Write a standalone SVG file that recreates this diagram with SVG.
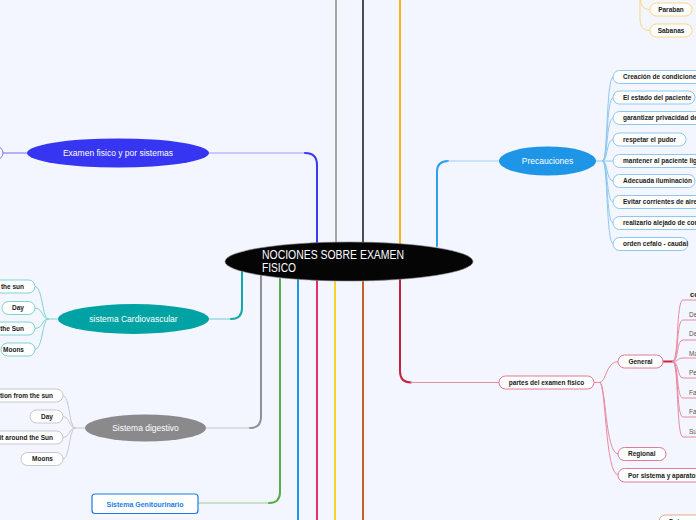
<svg xmlns="http://www.w3.org/2000/svg" width="696" height="520" viewBox="0 0 696 520">
<style>
text{font-family:"Liberation Sans",Arial,sans-serif}
.leaf{fill:#ffffff;stroke-width:1}
.lt{font-size:6.5px;font-weight:bold;fill:#1a1a1a}
.wt{font-size:8.5px;fill:#ffffff;text-anchor:middle}
.c{fill:none}
.ul{font-size:6.5px;fill:#555}
</style>
<rect width="696" height="520" fill="#f3f6fe"/>
<g id="connectors" fill="none" stroke-linecap="round">
  <!-- top lines -->
  <path d="M336,0 V244" stroke="#a3a79f" stroke-width="2"/>
  <path d="M363,0 V243" stroke="#495052" stroke-width="2"/>
  <path d="M400,0 V245" stroke="#f5b71a" stroke-width="2"/>
  <!-- bottom lines -->
  <path d="M298,280 V522" stroke="#1c96e8" stroke-width="2"/>
  <path d="M317,281 V522" stroke="#e52d68" stroke-width="2"/>
  <path d="M335,282 V522" stroke="#f8d22c" stroke-width="2"/>
  <path d="M363,282 V522" stroke="#c65f2c" stroke-width="2"/>
  <!-- Examen fisico -->
  <path d="M209,153 H305" stroke="#9c9cff" stroke-width="1"/>
  <path d="M305,153 Q317,153 317,165 V243" stroke="#3a3af5" stroke-width="2"/>
  <path d="M3,153 H27" stroke="#7070ff" stroke-width="1"/>
  <!-- Cardiovascular -->
  <path d="M209,319 H231" stroke="#6fcfcf" stroke-width="1"/>
  <path d="M231,319 Q242,319 242,308 V272" stroke="#14a8a8" stroke-width="2"/>
  <!-- Digestivo -->
  <path d="M206,428 H250" stroke="#c4c4c8" stroke-width="1"/>
  <path d="M250,428 Q261,428 261,417 V276" stroke="#909096" stroke-width="2"/>
  <!-- Genitourinario -->
  <path d="M198,503 H269" stroke="#9ad08e" stroke-width="1"/>
  <path d="M269,503 Q280,503 280,492 V279" stroke="#5aaa4e" stroke-width="2"/>
  <!-- Partes -->
  <path d="M400,280 V371 Q400,382.5 411,382.5" stroke="#c8203e" stroke-width="2"/>
  <path d="M411,382.5 H499" stroke="#e0909f" stroke-width="1"/>
  <!-- Precauciones -->
  <path d="M437,246 V172 Q437,161 448,161" stroke="#2d9ff0" stroke-width="2"/>
  <path d="M448,161 H499" stroke="#9fd0f5" stroke-width="1"/>
  <!-- Precauciones children -->
  <g stroke="#8ec8f2" stroke-width="1">
    <path d="M596,161 H603"/>
    <path d="M603,161 C608,161 606,77 613,77"/>
    <path d="M603,161 C608,161 606,97.5 613,97.5"/>
    <path d="M603,161 C608,161 606,118 613,118"/>
    <path d="M603,161 C608,161 606,139.5 613,139.5"/>
    <path d="M603,161 H613"/>
    <path d="M603,161 C608,161 606,181 613,181"/>
    <path d="M603,161 C608,161 606,202 613,202"/>
    <path d="M603,161 C608,161 606,223 613,223"/>
    <path d="M603,161 C608,161 606,244 613,244"/>
  </g>
  <!-- Paraban / Sabanas -->
  <g stroke="#f9d589" stroke-width="1">
    <path d="M640,-6 C640,6 643,9.5 650,9.5"/>
    <path d="M640,-6 V18 C640,27 643,30.5 650,30.5"/>
  </g>
  <!-- Cardio leaves -->
  <g stroke="#7fd3d3" stroke-width="1">
    <path d="M58,319 H48"/>
    <path d="M48,319 C42,319 43,286.5 35,286.5"/>
    <path d="M48,319 C42,319 43,308 35,308"/>
    <path d="M48,319 C42,319 43,328.5 35,328.5"/>
    <path d="M48,319 C42,319 43,349.5 35,349.5"/>
  </g>
  <!-- Digestivo leaves -->
  <g stroke="#c8c8cc" stroke-width="1">
    <path d="M85,428 H75"/>
    <path d="M75,428 C69,428 70,395.5 63,395.5"/>
    <path d="M75,428 C69,428 70,416.5 63,416.5"/>
    <path d="M75,428 C69,428 70,437.5 63,437.5"/>
    <path d="M75,428 C69,428 70,459 63,459"/>
  </g>
  <!-- Partes children -->
  <g stroke="#e88aa2" stroke-width="1">
    <path d="M594,382.5 H600"/>
    <path d="M600,382.5 C606,382.5 606,361.5 618,361.5"/>
    <path d="M600,382.5 C606,382.5 605,454 618,454"/>
    <path d="M600,382.5 C606,382.5 605,475 618,475"/>
  </g>
  <path d="M663,361.5 H673" stroke="#d0203e" stroke-width="2"/>
  <g stroke="#e88aa2" stroke-width="1">
    <path d="M673,361.5 C679,361.5 676,300 683,300 H700"/>
    <path d="M673,361.5 C679,361.5 676,320 683,320 H700"/>
    <path d="M673,361.5 C679,361.5 676,340 683,340 H700"/>
    <path d="M673,361.5 C679,361.5 677,358 683,358 H700"/>
    <path d="M673,361.5 C679,361.5 677,378 683,378 H700"/>
    <path d="M673,361.5 C679,361.5 676,398 683,398 H700"/>
    <path d="M673,361.5 C679,361.5 676,417 683,417 H700"/>
    <path d="M673,361.5 C679,361.5 676,437 683,437 H700"/>
  </g>
</g>

<g id="central">
  <ellipse cx="349" cy="261.5" rx="124" ry="19.5" fill="#050506" stroke="#888" stroke-width="0.6"/>
  <text x="262" y="259" font-size="12" fill="#fff" textLength="142" lengthAdjust="spacingAndGlyphs">NOCIONES SOBRE EXAMEN</text>
  <text x="262" y="272" font-size="12" fill="#fff" textLength="34" lengthAdjust="spacingAndGlyphs">FISICO</text>
</g>

<g id="examen">
  <ellipse cx="118" cy="153" rx="91" ry="14.5" fill="#3535f2"/>
  <text class="wt" x="118" y="156">Examen fisico y por sistemas</text>
</g>
<g id="examen-child">
  <rect x="-40" y="146.5" width="43" height="13" rx="6.5" fill="#fff" stroke="#7070ff"/>
</g>

<g id="cardio">
  <ellipse cx="133.5" cy="319" rx="75.5" ry="15" fill="#00a3a3"/>
  <text class="wt" x="133.5" y="322">sistema Cardiovascular</text>
</g>
<g id="cardio-1"><rect class="leaf" x="-30" y="280" width="65" height="13" rx="6.5" stroke="#7fd3d3"/><text class="lt" x="24" y="288.8" text-anchor="end">the sun</text></g>
<g id="cardio-2"><rect class="leaf" x="2" y="301.5" width="33" height="13" rx="6.5" stroke="#7fd3d3"/><text class="lt" x="24" y="310.3" text-anchor="end">Day</text></g>
<g id="cardio-3"><rect class="leaf" x="-30" y="322" width="65" height="13" rx="6.5" stroke="#7fd3d3"/><text class="lt" x="24" y="330.8" text-anchor="end">the Sun</text></g>
<g id="cardio-4"><rect class="leaf" x="1" y="343" width="34" height="13" rx="6.5" stroke="#7fd3d3"/><text class="lt" x="24" y="351.8" text-anchor="end">Moons</text></g>

<g id="digestivo">
  <ellipse cx="145.5" cy="428" rx="60.5" ry="13.5" fill="#8a8a8c"/>
  <text class="wt" x="145.5" y="431">Sistema digestivo</text>
</g>
<g id="dig-1"><rect class="leaf" x="-30" y="389" width="93" height="13" rx="6.5" stroke="#c8c8cc"/><text class="lt" x="53" y="397.8" text-anchor="end">tion from the sun</text></g>
<g id="dig-2"><rect class="leaf" x="30" y="410" width="33" height="13" rx="6.5" stroke="#c8c8cc"/><text class="lt" x="53" y="418.8" text-anchor="end">Day</text></g>
<g id="dig-3"><rect class="leaf" x="-30" y="431" width="93" height="13" rx="6.5" stroke="#c8c8cc"/><text class="lt" x="53" y="439.8" text-anchor="end">it around the Sun</text></g>
<g id="dig-4"><rect class="leaf" x="21" y="452.5" width="42" height="13" rx="6.5" stroke="#c8c8cc"/><text class="lt" x="53" y="461.3" text-anchor="end">Moons</text></g>

<g id="genitourinario">
  <rect x="92" y="494" width="106" height="19.5" rx="3" fill="#fff" stroke="#1c7de6" stroke-width="1.2"/>
  <text x="145" y="506.5" font-size="7" font-weight="bold" fill="#1c7de6" text-anchor="middle">Sistema Genitourinario</text>
</g>

<g id="precauciones">
  <ellipse cx="547.5" cy="161" rx="48.5" ry="14.5" fill="#1e95e6"/>
  <text class="wt" x="547.5" y="164">Precauciones</text>
</g>
<g id="prec-1"><rect class="leaf" x="613" y="70.5" width="100" height="13" rx="6.5" stroke="#8ec8f2"/><text class="lt" x="623" y="79.3">Creación de condiciones</text></g>
<g id="prec-2"><rect class="leaf" x="613" y="91" width="82" height="13" rx="6.5" stroke="#8ec8f2"/><text class="lt" x="623" y="99.8">El estado del paciente</text></g>
<g id="prec-3"><rect class="leaf" x="613" y="111.5" width="100" height="13" rx="6.5" stroke="#8ec8f2"/><text class="lt" x="623" y="120.3">garantizar privacidad del</text></g>
<g id="prec-4"><rect class="leaf" x="613" y="133" width="73" height="13" rx="6.5" stroke="#8ec8f2"/><text class="lt" x="623" y="141.8">respetar el pudor</text></g>
<g id="prec-5"><rect class="leaf" x="613" y="154.5" width="100" height="13" rx="6.5" stroke="#8ec8f2"/><text class="lt" x="623" y="163.3">mantener al paciente ligero</text></g>
<g id="prec-6"><rect class="leaf" x="613" y="174.5" width="82" height="13" rx="6.5" stroke="#8ec8f2"/><text class="lt" x="623" y="183.3">Adecuada iluminación</text></g>
<g id="prec-7"><rect class="leaf" x="613" y="195.5" width="100" height="13" rx="6.5" stroke="#8ec8f2"/><text class="lt" x="623" y="204.3">Evitar corrientes de aire</text></g>
<g id="prec-8"><rect class="leaf" x="613" y="216.5" width="100" height="13" rx="6.5" stroke="#8ec8f2"/><text class="lt" x="623" y="225.3">realizarlo alejado de corrientes</text></g>
<g id="prec-9"><rect class="leaf" x="613" y="237.5" width="75" height="13" rx="6.5" stroke="#8ec8f2"/><text class="lt" x="623" y="246.3">orden cefalo - caudal</text></g>

<g id="paraban"><rect class="leaf" x="650" y="3" width="42" height="13" rx="6.5" stroke="#f9d589"/><text class="lt" x="671" y="11.8" text-anchor="middle">Paraban</text></g>
<g id="sabanas"><rect class="leaf" x="650" y="24" width="42" height="13" rx="6.5" stroke="#f9d589"/><text class="lt" x="671" y="32.8" text-anchor="middle">Sabanas</text></g>

<g id="partes">
  <rect x="499" y="376" width="95" height="13" rx="6.5" fill="#fff" stroke="#e07a96"/>
  <text class="lt" x="546.5" y="384.8" text-anchor="middle">partes del examen fisico</text>
</g>
<g id="general"><rect class="leaf" x="618" y="355" width="45" height="13" rx="6.5" stroke="#e07a96"/><text class="lt" x="640.5" y="363.8" text-anchor="middle" font-size="7">General</text></g>
<g id="regional"><rect class="leaf" x="618" y="447.5" width="48" height="13" rx="6.5" stroke="#e07a96"/><text class="lt" x="628" y="456.3" font-size="7">Regional</text></g>
<g id="por-sistema"><rect class="leaf" x="618" y="468.5" width="100" height="13.5" rx="6.5" stroke="#e07a96"/><text class="lt" x="628" y="477.5" font-size="7">Por sistema y aparatos</text></g>

<g id="general-items">
  <text x="690" y="296.5" font-size="7.5" font-weight="bold" fill="#111">co</text>
  <text class="ul" x="689" y="316.5">De</text>
  <text class="ul" x="689" y="336">De</text>
  <text class="ul" x="689" y="355.5">Ma</text>
  <text class="ul" x="689" y="374.5">Pe</text>
  <text class="ul" x="689" y="394.5">Fa</text>
  <text class="ul" x="689" y="413.5">Fa</text>
  <text class="ul" x="689" y="433.5">Su</text>
</g>

<g id="bottom-node">
  <rect x="659" y="515" width="60" height="14" rx="6.5" fill="#fff" stroke="#e9a888"/>
  <text class="lt" x="669" y="524">Datos g</text>
</g>
</svg>
